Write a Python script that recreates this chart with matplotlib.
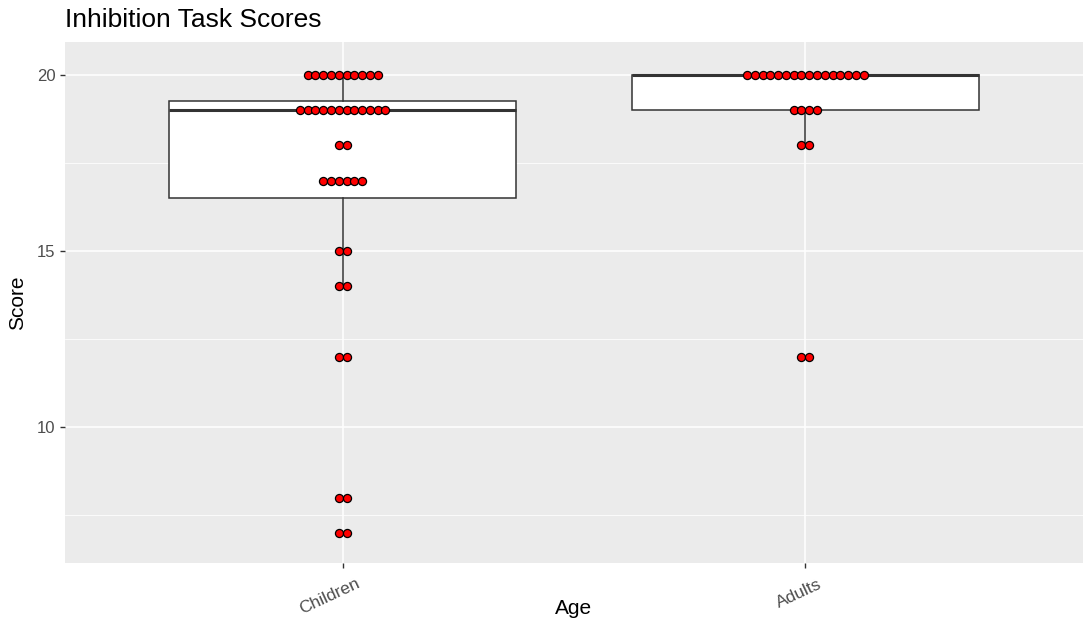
import numpy as np
import matplotlib.pyplot as plt
import matplotlib.transforms as mtransforms
from matplotlib.ticker import MultipleLocator

groups = ["Children", "Adults"]
children_scores = [7] * 2 + [8] * 2 + [12] * 2 + [14] * 2 + [15] * 2 + [17] * 6 + [18] * 2 + [19] * 12 + [20] * 10
adults_scores = [12] * 2 + [18] * 2 + [19] * 4 + [20] * 16
y_ticks = [10, 15, 20]

plt.rcParams['font.family'] = ['Liberation Sans', 'DejaVu Sans']

W, H = 1083, 626
fig = plt.figure(figsize=(W / 100, H / 100), dpi=100)
ax = fig.add_axes([65 / W, 1 - 563 / H, 1 - 65 / W, (563 - 42) / H])
ax.set_facecolor('#EBEBEB')

data = [np.array(children_scores), np.array(adults_scores)]
positions = np.arange(1, len(groups) + 1)

ax.boxplot(data, positions=positions, widths=0.75, whis=1.5, showfliers=False,
           patch_artist=True, zorder=2,
           boxprops=dict(facecolor='white', edgecolor='#333333', linewidth=1.1),
           whiskerprops=dict(color='#333333', linewidth=1.1),
           capprops=dict(linewidth=0),
           medianprops=dict(color='#333333', linewidth=2.2))

# centred dot stacks like geom_dotplot(binaxis='y', stackdir='center')
spacing = 0.0168
for pos, vals in zip(positions, data):
    levels, counts = np.unique(vals, return_counts=True)
    for lev, n in zip(levels, counts):
        xs = pos + (np.arange(n) - (n - 1) / 2) * spacing
        ax.scatter(xs, np.full(n, lev), s=34, color='red', edgecolors='black',
                   linewidths=0.9, zorder=3)

ax.set_xlim(0.4, 2.6)
ax.set_ylim(6.14, 20.94)
ax.set_xticks(positions)
ax.set_xticklabels([''] * len(groups))
# rotated group labels, anchored a little right of each tick like ggplot
lab_trans = ax.get_xaxis_transform() + mtransforms.ScaledTranslation(0.16, -0.20, fig.dpi_scale_trans)
for pos, name in zip(positions, groups):
    ax.text(pos, 0, name, transform=lab_trans, rotation=25, rotation_mode='anchor',
            ha='right', va='center', color='#4D4D4D', fontsize=12.5, clip_on=False)

ax.set_yticks(y_ticks)
ax.set_yticklabels([str(t) for t in y_ticks], color='#4D4D4D', fontsize=12)
ax.yaxis.set_minor_locator(MultipleLocator(2.5))
ax.tick_params(axis='both', which='major', length=3.3, color='#333333', width=1)
ax.tick_params(axis='both', which='minor', length=0)
ax.tick_params(axis='y', pad=3.5)

ax.grid(which='major', color='white', linewidth=1.1, zorder=0)
ax.grid(which='minor', axis='y', color='white', linewidth=0.55, zorder=0)
ax.set_axisbelow(True)
for sp in ax.spines.values():
    sp.set_visible(False)

fig.text(574 / W, 1 - 608 / H, 'Age', fontsize=15, ha='center', va='center')
fig.text(18 / W, 1 - 302.5 / H, 'Score', fontsize=15, rotation=90,
         ha='center', va='center')
fig.text(65 / W, 1 - 20 / H, 'Inhibition Task Scores', fontsize=19,
         ha='left', va='center')

fig.savefig('out.png', dpi=100)
